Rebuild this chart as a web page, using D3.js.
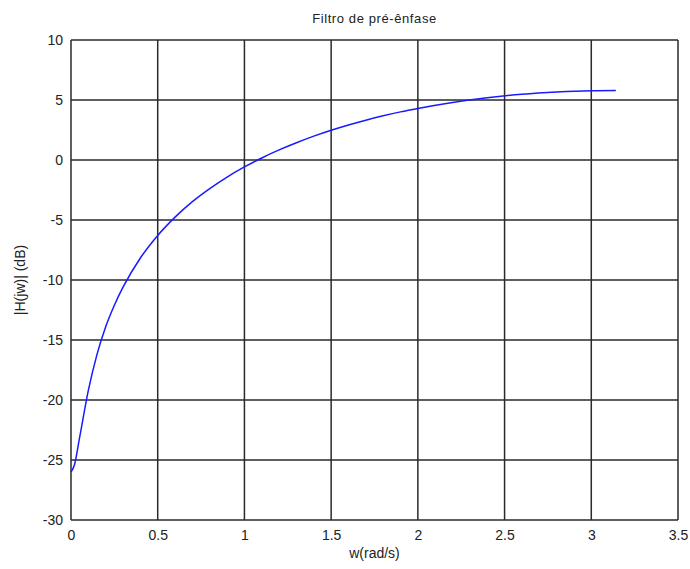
<!DOCTYPE html>
<html><head><meta charset="utf-8">
<script src="https://cdn.jsdelivr.net/npm/d3@7/dist/d3.min.js"></script>
<style>body{margin:0;background:#fff;} text{font-family:"Liberation Sans",Arial,sans-serif;fill:#222;}</style>
</head><body>
<svg id="c" width="690" height="569"></svg>
<script>
const title = "Filtro de pré-ênfase";
const xLabel = "w(rad/s)";
const yLabel = "|H(jw)| (dB)";
const xTicks = [0, 0.5, 1, 1.5, 2, 2.5, 3, 3.5];
const yTicks = [-30, -25, -20, -15, -10, -5, 0, 5, 10];
const w = [0, 0.02, 0.05, 0.1, 0.15, 0.2, 0.25, 0.3, 0.4, 0.5, 0.6, 0.7, 0.8, 0.9, 1.0, 1.1, 1.2, 1.3, 1.4, 1.5, 1.6, 1.7, 1.8, 1.9, 2.0, 2.2, 2.4, 2.6, 2.8, 3.0, 3.1416];
const hdB = [-26.0, -25.4, -23.1, -19.2, -16.2, -13.9, -12.1, -10.6, -8.17, -6.29, -4.76, -3.47, -2.38, -1.42, -0.58, 0.17, 0.84, 1.44, 1.99, 2.48, 2.92, 3.32, 3.68, 4.01, 4.30, 4.80, 5.19, 5.48, 5.67, 5.78, 5.80];

const svg = d3.select("#c");
const L = 71, R = 678, T = 40, B = 520;
const x = d3.scaleLinear().domain([0, 3.5]).range([L, R]);
const y = d3.scaleLinear().domain([-30, 10]).range([B, T]);

const grid = svg.append("g");
grid.selectAll(".v").data(xTicks).enter().append("line")
  .attr("x1", d => x(d)).attr("x2", d => x(d)).attr("y1", T).attr("y2", B)
  .attr("stroke", "#2a2a2a").attr("stroke-width", 1.5);
grid.selectAll(".h").data(yTicks).enter().append("line")
  .attr("x1", L).attr("x2", R).attr("y1", d => y(d)).attr("y2", d => y(d))
  .attr("stroke", "#2a2a2a").attr("stroke-width", 1.5);

const fmt = d => String(d);
const xAxis = svg.append("g").attr("transform", `translate(0,${B})`)
  .call(d3.axisBottom(x).tickValues(xTicks).tickSize(0).tickPadding(10).tickFormat(fmt));
const yAxis = svg.append("g").attr("transform", `translate(${L},0)`)
  .call(d3.axisLeft(y).tickValues(yTicks).tickSize(0).tickPadding(8).tickFormat(fmt));
[xAxis, yAxis].forEach(a => {
  a.select(".domain").remove();
  a.selectAll("text").style("font-size", "14px").style("font-family", "Liberation Sans, Arial, sans-serif").attr("fill", "#222");
});

svg.append("path").datum(w.map((d, i) => [d, hdB[i]]))
  .attr("d", d3.line().x(d => x(d[0])).y(d => y(d[1])).curve(d3.curveMonotoneX))
  .attr("fill", "none").attr("stroke", "#1a1aff").attr("stroke-width", 1.5);

svg.append("text").attr("x", (L + R) / 2).attr("y", 23).attr("text-anchor", "middle")
  .style("font-size", "13px").style("letter-spacing", "0.6px").text(title);
svg.append("text").attr("x", (L + R) / 2).attr("y", 558).attr("text-anchor", "middle")
  .style("font-size", "14px").text(xLabel);
svg.append("text").attr("transform", `translate(25,${(T + B) / 2}) rotate(-90)`).attr("text-anchor", "middle")
  .style("font-size", "14px").text(yLabel);
</script>
</body></html>
